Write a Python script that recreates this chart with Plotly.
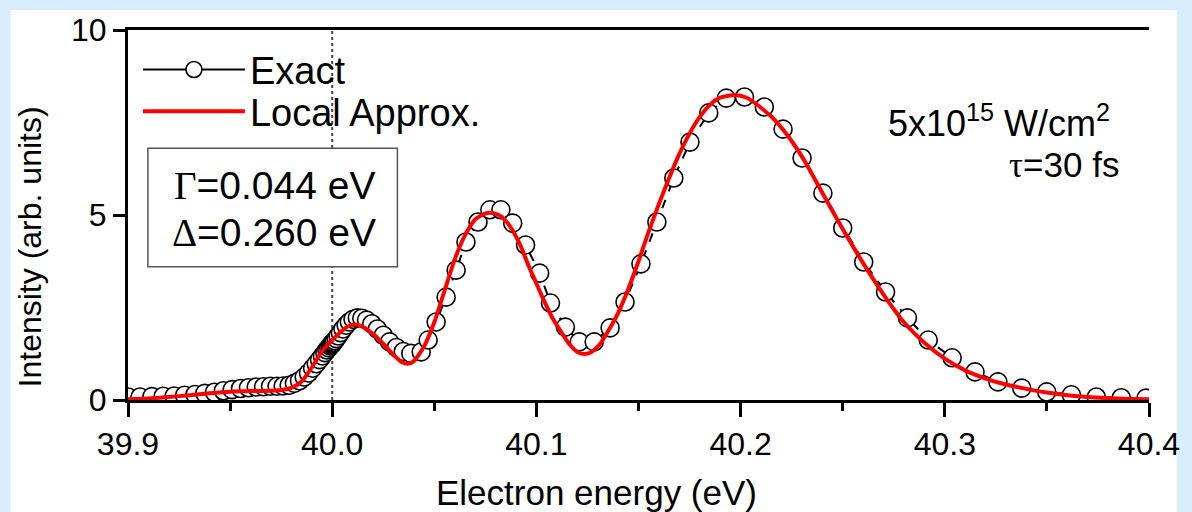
import plotly.graph_objects as go

# ---------------- data ----------------
exact_x = [39.9000, 39.9059, 39.9117, 39.9172, 39.9226, 39.9277, 39.9328, 39.9376, 39.9423, 39.9467,
           39.9510, 39.9551, 39.9590, 39.9628, 39.9664, 39.9698, 39.9730, 39.9760, 39.9789, 39.9815,
           39.9840, 39.9863, 39.9884, 39.9904, 39.9922, 39.9938, 39.9952, 39.9964, 39.9974, 39.9983,
           39.9990, 39.9995, 39.9998, 40.0000, 40.0001, 40.0003, 40.0006, 40.0012, 40.0020, 40.0029,
           40.0040, 40.0053, 40.0068, 40.0084, 40.0102, 40.0123, 40.0145, 40.0168, 40.0194, 40.0221,
           40.0250, 40.0281, 40.0314, 40.0348, 40.0385, 40.0436, 40.0470, 40.0509, 40.0558, 40.0607,
           40.0655, 40.0714, 40.0772, 40.0826, 40.0884, 40.0947, 40.1016, 40.1069, 40.1142, 40.1210,
           40.1283, 40.1361, 40.1434, 40.1512, 40.1590, 40.1673, 40.1752, 40.1844, 40.1930, 40.2019,
           40.2116, 40.2208, 40.2301, 40.2403, 40.2500, 40.2603, 40.2710, 40.2817, 40.2919, 40.3036,
           40.3148, 40.3260, 40.3377, 40.3499, 40.3620, 40.3742, 40.3864, 40.3985]
exact_y = [0.08, 0.08, 0.09, 0.10, 0.11, 0.13, 0.15, 0.18, 0.21, 0.25,
           0.28, 0.31, 0.33, 0.35, 0.36, 0.37, 0.37, 0.38, 0.40, 0.45,
           0.52, 0.62, 0.73, 0.86, 0.98, 1.09, 1.19, 1.28, 1.35, 1.41,
           1.46, 1.49, 1.51, 1.52, 1.53, 1.54, 1.56, 1.60, 1.66, 1.73,
           1.82, 1.92, 2.02, 2.11, 2.18, 2.22, 2.21, 2.16, 2.06, 1.92,
           1.75, 1.57, 1.42, 1.31, 1.26, 1.30, 1.62, 2.11, 2.78, 3.51,
           4.27, 4.81, 5.14, 5.14, 4.78, 4.19, 3.43, 2.62, 1.97, 1.57,
           1.57, 1.95, 2.65, 3.68, 4.81, 6.00, 6.97, 7.76, 8.16, 8.19,
           7.92, 7.32, 6.54, 5.59, 4.65, 3.73, 2.92, 2.22, 1.62, 1.14,
           0.76, 0.49, 0.32, 0.22, 0.14, 0.08, 0.06, 0.05]

local_x = [39.900, 39.910, 39.920, 39.930, 39.940, 39.950, 39.960, 39.970, 39.975, 39.980,
           39.985, 39.990, 39.995, 40.000, 40.005, 40.008, 40.0115, 40.015, 40.020, 40.025,
           40.030, 40.034, 40.037, 40.040, 40.045, 40.050, 40.055, 40.060, 40.065, 40.070,
           40.075, 40.079, 40.083, 40.087, 40.092, 40.096, 40.100, 40.104, 40.108, 40.112,
           40.116, 40.120, 40.1235, 40.127, 40.131, 40.135, 40.140, 40.145, 40.150, 40.155,
           40.160, 40.165, 40.170, 40.175, 40.180, 40.185, 40.190, 40.197, 40.203, 40.210,
           40.217, 40.225, 40.232, 40.240, 40.250, 40.260, 40.270, 40.280, 40.290, 40.300,
           40.310, 40.320, 40.330, 40.340, 40.350, 40.360, 40.370, 40.380, 40.390, 40.400]
local_y = [0.02, 0.04, 0.08, 0.13, 0.18, 0.22, 0.24, 0.25, 0.27, 0.33,
           0.50, 0.88, 1.32, 1.62, 1.88, 2.00, 2.04, 1.98, 1.78, 1.52,
           1.22, 1.03, 0.98, 1.05, 1.45, 2.10, 2.95, 3.80, 4.45, 4.88,
           5.04, 5.05, 4.95, 4.70, 4.20, 3.65, 3.15, 2.65, 2.20, 1.85,
           1.52, 1.30, 1.24, 1.30, 1.50, 1.85, 2.35, 3.00, 3.75, 4.55,
           5.30, 6.00, 6.65, 7.20, 7.65, 7.98, 8.17, 8.24, 8.17, 7.90,
           7.55, 7.00, 6.40, 5.60, 4.62, 3.70, 2.85, 2.10, 1.55, 1.12,
           0.80, 0.58, 0.42, 0.30, 0.20, 0.13, 0.08, 0.05, 0.03, 0.02]

x_ticks = [39.9, 40.0, 40.1, 40.2, 40.3, 40.4]
y_ticks = [0, 5, 10]
marker_energy = 40.0

FONT = "Liberation Sans, Arial, sans-serif"
SERIF = "Liberation Serif, Times New Roman, serif"

# pixel helpers for placing texts (plot area: x 128..1155, y 28..400)
def px(xp):
    return (xp - 128) / 1027

def py(yp):
    return (400 - yp) / 372

fig = go.Figure()

# Exact: dashed line with open circles
fig.add_trace(go.Scatter(
    x=exact_x, y=exact_y, mode="lines+markers", showlegend=False,
    line=dict(color="black", width=2, dash="dash"),
    marker=dict(symbol="circle", size=18, color="white",
                line=dict(color="black", width=1.6)),
))
# legend entry for Exact (solid line + circle)
fig.add_trace(go.Scatter(
    x=[None], y=[None], mode="lines+markers", name="Exact", legend="legend",
    line=dict(color="black", width=2),
    marker=dict(symbol="circle", size=17, color="white",
                line=dict(color="black", width=1.6)),
))
fig.add_trace(go.Scatter(
    x=local_x, y=local_y, mode="lines", name="Local Approx.", legend="legend2",
    line=dict(color="#ff0000", width=4, shape="spline", smoothing=0.6),
))

# outer light-blue frame with white page
fig.add_shape(type="rect", xref="paper", yref="paper",
              x0=px(10), x1=px(1183), y0=py(520), y1=py(8),
              fillcolor="white", line=dict(width=0), layer="below")

# vertical dotted reference line
fig.add_shape(type="line", xref="x", yref="paper",
              x0=marker_energy, x1=marker_energy, y0=0, y1=1,
              line=dict(color="#444444", width=2, dash="dot"), layer="below")

# parameter box
fig.add_shape(type="rect", xref="paper", yref="paper",
              x0=px(148), x1=px(399), y0=py(266), y1=py(147),
              fillcolor="white", line=dict(color="#555555", width=1.5), layer="above")

fig.add_annotation(xref="paper", yref="paper", x=px(275), y=py(184),
                   text=f'<span style="font-family:{SERIF}">Γ</span>=0.044 eV',
                   showarrow=False, xanchor="center", yanchor="middle",
                   font=dict(family=FONT, size=39, color="black"))
fig.add_annotation(xref="paper", yref="paper", x=px(275), y=py(232),
                   text=f'<span style="font-family:{SERIF}">Δ</span>=0.260 eV',
                   showarrow=False, xanchor="center", yanchor="middle",
                   font=dict(family=FONT, size=39, color="black"))

fig.add_annotation(xref="paper", yref="paper", x=px(1118), y=py(119),
                   text="5x10<sup>15</sup> W/cm<sup>2</sup>",
                   showarrow=False, xanchor="right", yanchor="middle",
                   font=dict(family=FONT, size=36, color="black"))
fig.add_annotation(xref="paper", yref="paper", x=px(1127), y=py(164),
                   text=f'<span style="font-family:{SERIF}">τ</span>=30 fs',
                   showarrow=False, xanchor="right", yanchor="middle",
                   font=dict(family=FONT, size=35, color="black"))

# axis titles
fig.add_annotation(xref="paper", yref="paper", x=px(599), y=py(493),
                   text="Electron energy (eV)", showarrow=False,
                   xanchor="center", yanchor="middle",
                   font=dict(family=FONT, size=35, color="black"))
fig.add_annotation(xref="paper", yref="paper", x=px(29), y=py(246),
                   text="Intensity (arb. units)", showarrow=False, textangle=-90,
                   xanchor="center", yanchor="middle",
                   font=dict(family=FONT, size=32, color="black"))

LEG_FONT = dict(family=FONT, size=38, color="black")
fig.update_layout(
    width=1192, height=512,
    margin=dict(l=128, r=37, t=28, b=112),
    paper_bgcolor="#d8eefc", plot_bgcolor="white",
    font=dict(family=FONT, color="black"),
    legend=dict(x=px(138), y=py(68), xanchor="left", yanchor="middle",
                bgcolor="rgba(0,0,0,0)", itemwidth=102, font=LEG_FONT),
    legend2=dict(x=px(138), y=py(110), xanchor="left", yanchor="middle",
                 bgcolor="rgba(0,0,0,0)", itemwidth=102, font=LEG_FONT),
    xaxis=dict(range=[39.9, 40.4], tickvals=x_ticks, tickformat=".1f",
               ticks="outside", ticklen=14, tickwidth=3, tickcolor="black",
               minor=dict(dtick=0.05, tick0=39.9, ticks="outside", ticklen=8, tickwidth=3, tickcolor="black"),
               showline=True, linewidth=3, linecolor="black", mirror=True,
               showgrid=False, zeroline=False,
               tickfont=dict(family=FONT, size=32)),
    yaxis=dict(range=[0, 10], tickvals=y_ticks,
               ticks="outside", ticklen=12, tickwidth=3, tickcolor="black",
               showline=True, linewidth=3, linecolor="black",
               showgrid=False, zeroline=False,
               tickfont=dict(family=FONT, size=32)),
    yaxis2=dict(range=[0, 10], tickvals=y_ticks, overlaying="y", side="right",
                ticks="inside", ticklen=18, tickwidth=3, tickcolor="black",
                showticklabels=False, showline=True, linewidth=3, linecolor="black",
                showgrid=False, zeroline=False),
)

fig.write_html("out.html")
